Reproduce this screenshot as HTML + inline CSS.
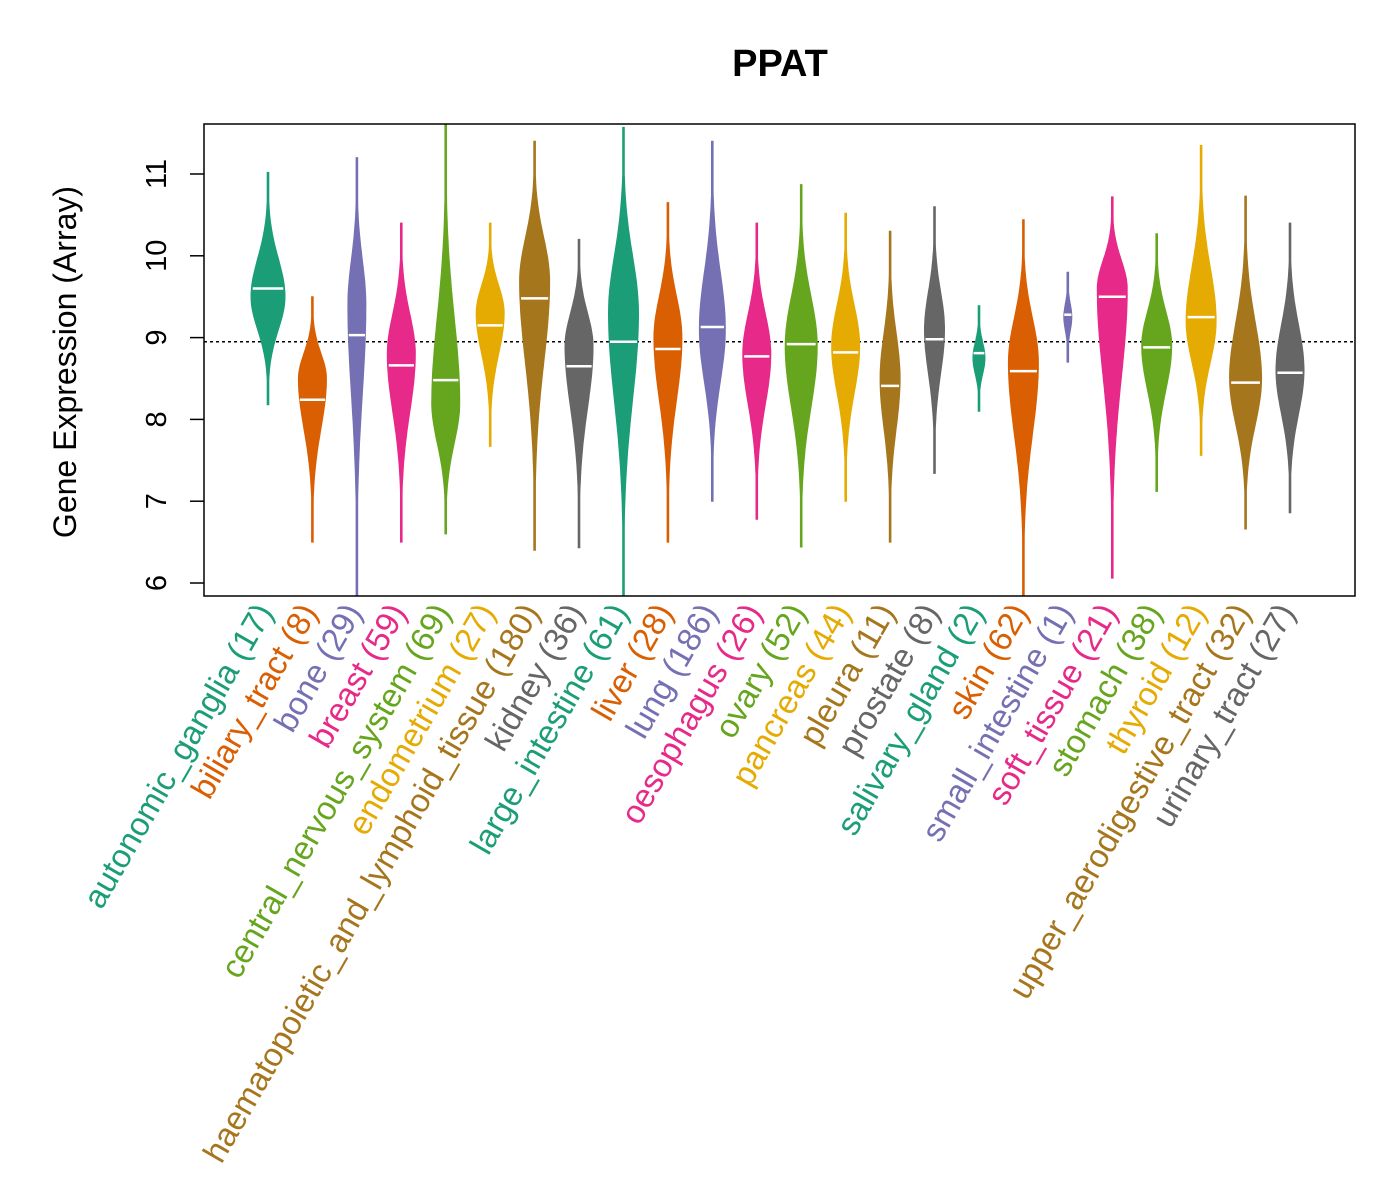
<!DOCTYPE html>
<html><head><meta charset="utf-8"><style>
html,body{margin:0;padding:0;background:#fff;}
svg{display:block;font-family:"Liberation Sans",Arial,sans-serif;}
</style></head><body>
<svg id="chart" width="1400" height="1200" viewBox="0 0 1400 1200">
<text x="780" y="76" text-anchor="middle" font-size="38" font-weight="bold">PPAT</text>
<text transform="translate(76,362) rotate(-90)" text-anchor="middle" font-size="32">Gene Expression (Array)</text>
<g id="violins"></g>
<rect x="204" y="124" width="1151" height="472" fill="none" stroke="#000" stroke-width="1.5"/>
<g id="yaxis"></g>
<g id="xlabels"></g>
</svg>
<script>
const categories=["autonomic_ganglia","biliary_tract","bone","breast","central_nervous_system","endometrium","haematopoietic_and_lymphoid_tissue","kidney","large_intestine","liver","lung","oesophagus","ovary","pancreas","pleura","prostate","salivary_gland","skin","small_intestine","soft_tissue","stomach","thyroid","upper_aerodigestive_tract","urinary_tract"];
const counts=[17,8,29,59,69,27,180,36,61,28,186,26,52,44,11,8,2,62,1,21,38,12,32,27];
const maxVals=[11.02,9.5,11.2,10.4,11.6,10.4,11.4,10.2,11.57,10.65,11.4,10.4,10.87,10.52,10.3,10.6,9.39,10.44,9.8,10.72,10.27,11.35,10.73,10.4];
const minVals=[8.18,6.5,5.85,6.5,6.6,7.67,6.4,6.43,5.85,6.5,7.0,6.78,6.44,7.0,6.5,7.34,8.1,5.85,8.7,6.06,7.12,7.56,6.66,6.86];
const medians=[9.6,8.24,9.03,8.66,8.48,9.15,9.48,8.65,8.95,8.86,9.13,8.77,8.92,8.82,8.41,8.98,8.81,8.59,9.28,9.5,8.88,9.25,8.45,8.57];
const peaks=[9.5,8.5,9.4,8.8,8.2,9.3,9.7,8.9,9.3,9.0,9.1,8.8,8.9,8.9,8.5,9.1,8.75,8.7,9.25,9.6,8.9,9.2,8.5,8.6];
const halfWidths=[17,14,9,14,14,14,15,14,15,14,13,14,16,14,10,10,6,15,4,15,15,15,16,14];
const yTicks=[6,7,8,9,10,11];
const refLine=8.95;
const colors=["#1B9E77","#D95F02","#7570B3","#E7298A","#66A61E","#E6AB02","#A6761D","#666666"];
const NS="http://www.w3.org/2000/svg";
function yS(v){return 583-(v-6)*81.8;}
function xS(i){return 268+i*(1290-268)/23;}
const vg=document.getElementById('violins');
const rl=document.createElementNS(NS,'line');
rl.setAttribute('x1',204);rl.setAttribute('x2',1355);
rl.setAttribute('y1',yS(refLine));rl.setAttribute('y2',yS(refLine));
rl.setAttribute('stroke','#000');rl.setAttribute('stroke-width',1.5);rl.setAttribute('stroke-dasharray','3,3');


vg.appendChild(rl);
categories.forEach((c,i)=>{
  const col=colors[i%8],x=xS(i),mx=maxVals[i],mn=minVals[i],pk=peaks[i],w=halfWidths[i];
  const su=Math.max((mx-pk)/2.3,0.05),sd=Math.max((pk-mn)/2.3,0.05);
  const pts=[],N=60;
  for(let k=0;k<=N;k++){const v=mn+(mx-mn)*k/N;const s=v>pk?su:sd;const hw=Math.max(w*Math.exp(-Math.pow((v-pk)/s,2)),0.8);pts.push([v,hw]);}
  let d='';
  pts.forEach((p,k)=>{d+=(k?'L':'M')+(x+p[1]).toFixed(1)+','+yS(p[0]).toFixed(1);});
  for(let k=pts.length-1;k>=0;k--){d+='L'+(x-pts[k][1]).toFixed(1)+','+yS(pts[k][0]).toFixed(1);}
  d+='Z';
  const p=document.createElementNS(NS,'path');
  p.setAttribute('d',d);p.setAttribute('fill',col);p.setAttribute('stroke',col);p.setAttribute('stroke-width',1);
  
  
  vg.appendChild(p);
  const ml=document.createElementNS(NS,'line');
  ml.setAttribute('x1',x-w*0.9);ml.setAttribute('x2',x+w*0.9);
  ml.setAttribute('y1',yS(medians[i]));ml.setAttribute('y2',yS(medians[i]));
  ml.setAttribute('stroke','#fff');ml.setAttribute('stroke-width',2.5);
  
  
  vg.appendChild(ml);
  const t=document.createElementNS(NS,'text');
  t.setAttribute('transform','translate('+(x+6)+',612) rotate(-60)');
  t.setAttribute('text-anchor','end');t.setAttribute('font-size','33');t.setAttribute('fill',col);
  t.textContent=c+' ('+counts[i]+')';
  
  
  document.getElementById('xlabels').appendChild(t);
});
const ya=document.getElementById('yaxis');
yTicks.forEach(v=>{
  const l=document.createElementNS(NS,'line');
  l.setAttribute('x1',190);l.setAttribute('x2',204);l.setAttribute('y1',yS(v));l.setAttribute('y2',yS(v));
  l.setAttribute('stroke','#000');l.setAttribute('stroke-width',1.5);
  
  
  ya.appendChild(l);
  const t=document.createElementNS(NS,'text');
  t.setAttribute('transform','translate(166,'+yS(v)+') rotate(-90)');
  t.setAttribute('text-anchor','middle');t.setAttribute('font-size','29');
  t.textContent=v;
  
  
  ya.appendChild(t);
});
</script>
</body></html>
